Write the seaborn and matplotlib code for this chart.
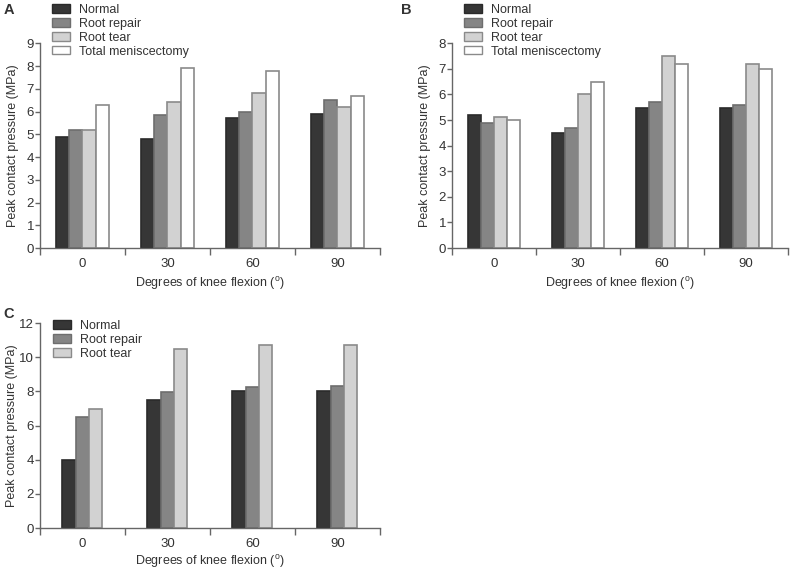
import numpy as np
import pandas as pd
import matplotlib as mpl
mpl.use("Agg")
import matplotlib.pyplot as plt
import seaborn as sns

# Data
angles = ["0", "30", "60", "90"]
groups = ["Normal", "Root repair", "Root tear", "Total meniscectomy"]

a_normal = [4.9, 4.8, 5.7, 5.88]
a_repair = [5.2, 5.83, 6.0, 6.52]
a_tear = [5.2, 6.42, 6.8, 6.22]
a_total = [6.3, 7.9, 7.8, 6.7]

b_normal = [5.2, 4.5, 5.47, 5.48]
b_repair = [4.9, 4.7, 5.7, 5.6]
b_tear = [5.1, 6.02, 7.52, 7.2]
b_total = [5.0, 6.5, 7.2, 7.0]

c_normal = [4.0, 7.52, 8.0, 8.0]
c_repair = [6.52, 7.97, 8.25, 8.3]
c_tear = [7.0, 10.5, 10.7, 10.7]

fills = ["#363636", "#858585", "#d2d2d2", "#ffffff"]
edges = ["#2a2a2a", "#6e6e6e", "#8a8a8a", "#8a8a8a"]

sns.set_theme(style="ticks")
plt.rcParams["font.family"] = ["Liberation Sans", "DejaVu Sans"]
plt.rcParams["mathtext.fontset"] = "custom"
plt.rcParams["mathtext.rm"] = "Liberation Sans"
plt.rcParams["text.color"] = "#333333"
plt.rcParams["axes.labelcolor"] = "#333333"
plt.rcParams["xtick.color"] = "#666666"
plt.rcParams["ytick.color"] = "#666666"
plt.rcParams["xtick.labelcolor"] = "#333333"
plt.rcParams["ytick.labelcolor"] = "#333333"


def make_frame(series):
    rows = []
    for name, vals in series:
        for ang, v in zip(angles, vals):
            rows.append({"angle": ang, "group": name, "value": v})
    return pd.DataFrame(rows)


def draw_panel(ax, df, names, ymax, ystep, width, legend_xy, label_x, xpad, letter, letter_xy):
    sns.barplot(data=df, x="angle", y="value", hue="group", hue_order=names,
                palette=fills[:len(names)], width=width, gap=0,
                linewidth=1.2, edgecolor="#888888", saturation=1,
                errorbar=None, ax=ax, legend=False)
    for cont, ec in zip(ax.containers, edges):
        for bar in cont:
            bar.set_edgecolor(ec)
    ax.set_xlim(-0.5, 3.5)
    ax.set_ylim(0, ymax)
    ax.set_yticks(np.arange(0, ymax + 0.01, ystep))
    ax.set_xticks(np.arange(-0.5, 3.6, 1), minor=True)
    ax.tick_params(axis="x", which="major", length=0, labelsize=9.5, pad=7)
    ax.tick_params(axis="x", which="minor", length=5, width=1)
    ax.tick_params(axis="y", length=3.5, width=1, labelsize=9.5, pad=0.8)
    for s in ["top", "right"]:
        ax.spines[s].set_visible(False)
    for s in ["left", "bottom"]:
        ax.spines[s].set_color("#666666")
        ax.spines[s].set_linewidth(1)
    ax.set_ylabel("Peak contact pressure (MPa)", fontsize=9)
    ax.set_xlabel("Degrees of knee flexion ($^{\\mathrm{o}}$)", fontsize=9, labelpad=xpad)
    trans = mpl.transforms.blended_transform_factory(fig.transFigure, ax.transAxes)
    ax.yaxis.set_label_coords(label_x / 793, 0.5, transform=trans)
    ax.yaxis.label.set_verticalalignment("center")

    handles = [mpl.patches.Patch(facecolor=fills[i], edgecolor=edges[i], linewidth=1)
               for i in range(len(names))]
    ax.legend(handles, names, loc="upper left", bbox_to_anchor=legend_xy,
              bbox_transform=fig.transFigure, frameon=False, fontsize=9,
              borderaxespad=0, borderpad=0, labelspacing=0.15,
              handlelength=1.45, handleheight=0.65, handletextpad=0.7)
    fig.text(letter_xy[0], letter_xy[1], letter, fontsize=10.5, fontweight="bold",
             ha="left", va="top")


fig = plt.figure(figsize=(7.93, 5.69), dpi=100)
ax_a = fig.add_axes([0.0504, 0.564, 0.4287, 0.360])
ax_b = fig.add_axes([0.570, 0.564, 0.4237, 0.360])
ax_c = fig.add_axes([0.0504, 0.0720, 0.4287, 0.360])

df_a = make_frame(zip(groups, [a_normal, a_repair, a_tear, a_total]))
df_b = make_frame(zip(groups, [b_normal, b_repair, b_tear, b_total]))
df_c = make_frame(zip(groups[:3], [c_normal, c_repair, c_tear]))

draw_panel(ax_a, df_a, groups, 9, 1, 0.63, (52 / 793, 1 - 4 / 569), 13, 4,
           "A", (4 / 793, 1 - 3 / 569))
draw_panel(ax_b, df_b, groups, 8, 1, 0.63, (464 / 793, 1 - 4 / 569), 425, 4,
           "B", (401 / 793, 1 - 3 / 569))
draw_panel(ax_c, df_c, groups[:3], 12, 2, 0.47, (53 / 793, 1 - 320 / 569), 12, 2,
           "C", (3 / 793, 1 - 307 / 569))

fig.savefig("out.png", dpi=100)
